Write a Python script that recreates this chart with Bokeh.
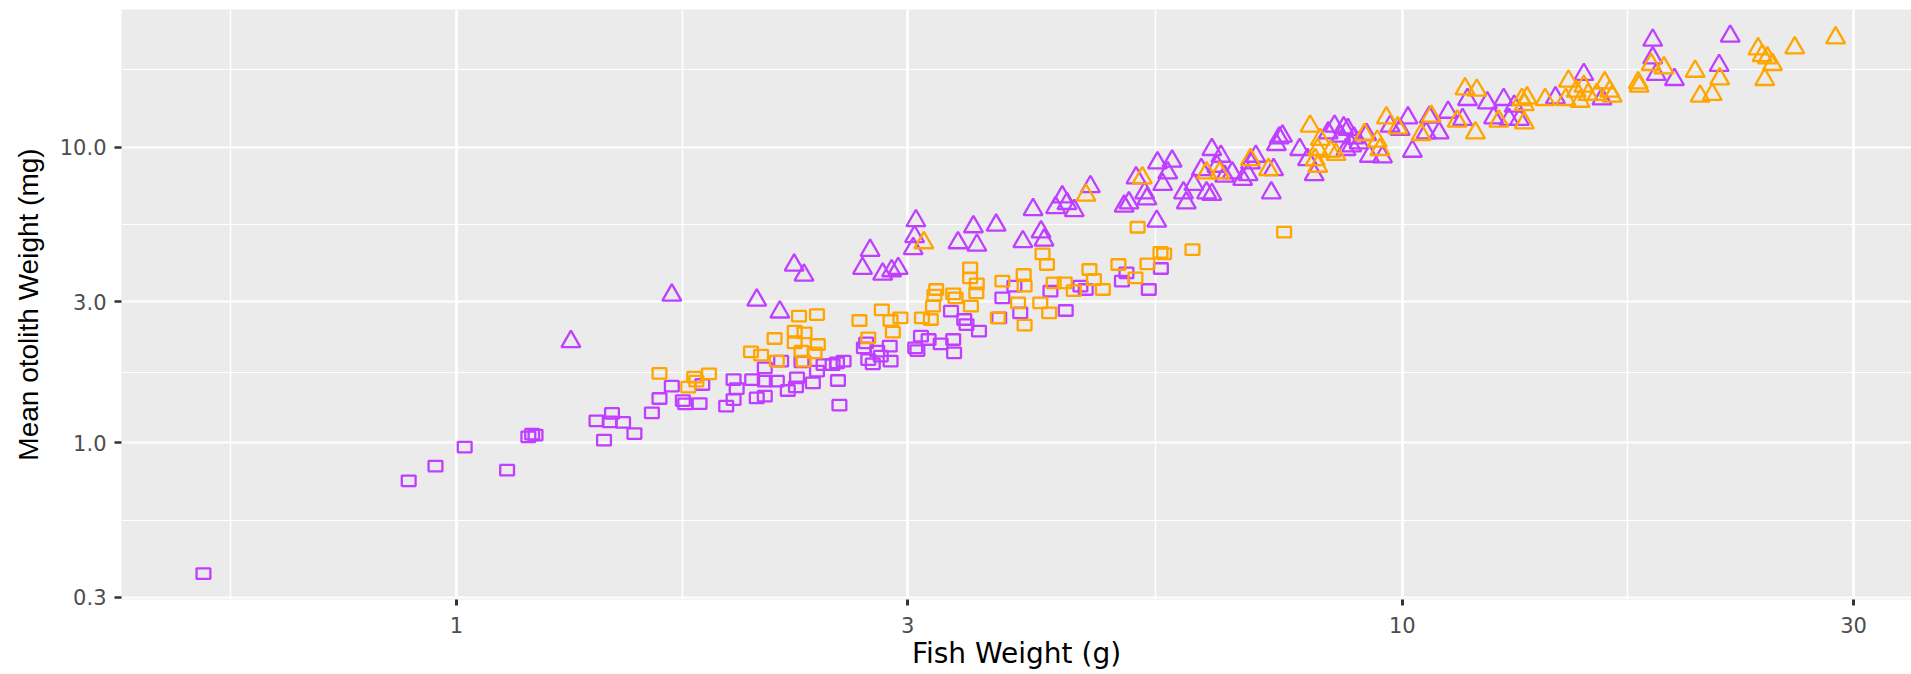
from bokeh.plotting import figure
from bokeh.models import Range1d, FixedTicker
from bokeh.embed import file_html
from bokeh.resources import INLINE

# ---------------- data (fish weight g, mean otolith weight mg) ----------------
purple_sq_x = [0.540, 0.890, 0.950, 1.020, 1.131, 1.191, 1.202, 1.212, 1.406, 1.432, 1.460, 1.452, 1.500, 1.542,
               1.609, 1.639, 1.689, 1.735, 1.745, 1.807, 1.819, 1.928, 1.963, 1.963, 1.978, 2.077, 2.118, 2.054,
               2.118, 2.118, 2.181, 2.204, 2.240, 2.285, 2.291, 2.316, 2.381, 2.405, 2.444, 2.498, 2.525, 2.566,
               2.531, 2.540, 2.696, 2.711, 2.725, 2.755, 2.785, 2.809, 2.877, 2.871, 3.055, 3.071, 3.098, 3.156,
               3.250, 3.333, 3.351, 3.358, 3.442, 3.461, 3.568, 3.748, 3.777, 3.889, 3.945, 4.407, 4.246, 4.567,
               4.627, 5.053, 5.109, 5.395, 5.556]
purple_sq_y = [0.361, 0.744, 0.834, 0.967, 0.808, 1.048, 1.070, 1.062, 1.187, 1.021, 1.257, 1.178, 1.172, 1.075,
               1.263, 1.412, 1.555, 1.390, 1.354, 1.358, 1.575, 1.330, 1.401, 1.637, 1.526, 1.419, 1.438, 1.637,
               1.616, 1.793, 1.616, 1.889, 1.503, 1.546, 1.659, 1.879, 1.595, 1.747, 1.840, 1.840, 1.864, 1.889,
               1.625, 1.341, 2.096, 2.178, 1.913, 1.850, 2.042, 1.964, 1.889, 2.123, 2.096, 2.052, 2.295, 2.236,
               2.162, 2.788, 2.236, 2.016, 2.613, 2.512, 2.386, 2.647, 3.093, 3.388, 2.753, 2.803, 3.258, 3.388,
               3.301, 3.523, 3.758, 3.301, 3.888]

orange_sq_x = [1.639, 1.784, 1.793, 1.849, 1.758, 2.048, 2.099, 2.169, 2.181, 2.278, 2.302, 2.333, 2.278, 2.316,
               2.405, 2.410, 2.391, 2.328, 2.667, 2.725, 2.816, 2.877, 2.893, 2.947, 3.105, 3.173, 3.190, 3.215,
               3.201, 3.351, 3.370, 3.492, 3.492, 3.549, 3.545, 3.499, 3.777, 3.978, 3.987, 3.736, 3.924, 3.987,
               4.165, 4.210, 4.142, 4.233, 4.279, 4.397, 4.494, 4.669, 4.720, 4.824, 5.010, 5.222, 5.378, 5.250,
               7.500, 5.550, 5.600, 6.000]
orange_sq_y = [1.717, 1.667, 1.616, 1.711, 1.542, 2.030, 1.980, 2.254, 1.889, 2.386, 2.682, 2.355, 2.178, 2.042,
               2.716, 2.151, 2.016, 1.889, 2.593, 2.265, 2.818, 2.593, 2.368, 2.647, 2.647, 2.613, 2.899, 3.301,
               3.158, 3.192, 3.093, 3.907, 3.615, 3.451, 3.216, 2.899, 3.523, 3.710, 3.388, 2.647, 2.976, 2.500,
               4.358, 4.010, 2.976, 2.753, 3.477, 3.477, 3.274, 3.857, 3.568, 3.301, 4.010, 3.615, 4.031, 5.360,
               5.160, 4.410, 4.360, 4.500]

purple_tri_x = [1.321, 1.689, 2.077, 2.197, 2.275, 2.330, 2.687, 2.737, 2.822, 2.884, 2.931, 3.040, 3.050, 3.060,
                3.390, 3.520, 3.550, 3.720, 3.970, 4.150, 4.180, 4.070, 4.300, 4.420, 4.370, 4.680, 4.500,
                5.08, 5.14, 5.34, 5.37, 5.50, 5.23, 5.51, 5.71, 5.65, 5.58, 5.87, 5.91, 6.02, 6.13, 6.21, 6.29,
                6.29, 6.43, 6.37, 6.49, 6.61, 6.78, 6.87, 6.91, 7.00, 7.27, 7.31, 7.36, 7.41, 7.47, 7.79, 7.94,
                8.07, 8.35, 8.48, 8.67, 8.61, 8.76, 8.89, 9.00, 8.72, 8.84, 9.17, 9.23, 9.53, 9.71, 9.95, 10.14,
                10.25, 10.60, 10.68, 10.94, 11.18, 11.58, 11.72, 12.30, 12.80, 12.97, 13.13, 13.30, 12.49, 14.52,
                15.56, 16.26, 18.40, 18.40, 18.56, 19.40, 21.63, 22.22]
purple_tri_y = [2.20, 3.16, 3.04, 2.77, 3.99, 3.69, 3.89, 4.48, 3.72, 3.82, 3.89, 4.54, 4.98, 5.64,
                4.75, 5.38, 4.66, 5.45, 4.79, 5.17, 4.85, 6.15, 6.25, 6.45, 6.79, 7.35, 6.10,
                6.32, 6.48, 7.01, 6.69, 5.62, 7.88, 8.85, 8.97, 8.19, 7.48, 7.01, 6.48, 7.48, 8.40, 7.01, 6.92,
                9.82, 9.32, 8.62, 7.98, 8.19, 7.78, 8.08, 8.85, 9.32, 7.01, 8.40, 10.21, 10.75, 10.90, 9.82, 9.08,
                8.08, 11.18, 11.78, 11.63, 10.90, 11.48, 10.75, 10.34, 9.82, 10.10, 11.04, 9.32, 9.27, 11.78, 11.48, 12.57,
                9.69, 11.18, 12.63, 11.18, 13.13, 12.41, 14.50, 14.13, 14.50, 12.41, 13.76, 12.41, 12.57, 14.69,
                17.62, 14.57, 23.01, 20.06, 17.62, 16.94, 18.90, 23.74]

orange_tri_x = [3.12, 4.63, 5.31, 6.21, 6.41, 6.91, 7.22, 7.99, 8.19, 8.14, 8.09, 8.14, 8.40, 8.51, 9.12, 9.41,
                9.47, 9.62, 9.89, 10.47, 10.73, 11.43, 11.65, 11.99, 11.95, 12.65, 13.46, 13.38, 13.55, 13.46,
                14.16, 14.99, 15.27, 14.89, 15.42, 15.72, 15.56, 16.06, 16.37, 16.57, 16.67, 17.76, 17.80, 18.33,
                18.91, 20.40, 21.66, 20.65, 21.27, 23.78, 24.02, 24.32, 24.63, 24.17, 26.00, 28.72]
orange_tri_y = [4.75, 6.88, 7.88, 8.19, 8.19, 9.08, 8.40, 11.78, 10.62, 9.82, 9.08, 8.62, 9.69, 9.45, 11.04, 10.48,
                9.82, 12.57, 11.63, 11.04, 12.73, 12.25, 15.75, 15.59, 11.18, 12.25, 12.09, 14.50, 14.69, 13.94,
                14.50, 16.72, 15.47, 14.50, 14.30, 15.08, 16.08, 15.08, 16.51, 15.47, 14.88, 16.51, 16.08, 19.04,
                18.55, 18.07, 17.03, 14.88, 15.08, 21.52, 20.42, 20.06, 19.04, 16.94, 21.68, 23.43]

x_ticks = [1, 3, 10, 30]
x_tick_labels = ["1", "3", "10", "30"]
x_minor = [0.5774, 1.7321, 5.4772, 17.3205]
y_ticks = [0.3, 1, 3, 10]
y_tick_labels = ["0.3", "1.0", "3.0", "10.0"]
y_minor = [0.5477, 1.7321, 5.4772, 18.2574]

PURPLE = "#BF3EFF"
ORANGE = "#FFA500"

p = figure(width=1911, height=674, x_axis_type="log", y_axis_type="log",
           x_range=Range1d(0.4423, 34.55), y_range=Range1d(0.2951, 29.23),
           output_backend="svg", toolbar_location=None,
           min_border_left=121, min_border_right=0, min_border_top=9, min_border_bottom=75)
p.background_fill_color = "#EBEBEB"
p.border_fill_color = "white"
p.outline_line_color = None

xt = FixedTicker(ticks=x_ticks, minor_ticks=x_minor)
yt = FixedTicker(ticks=y_ticks, minor_ticks=y_minor)
p.xaxis.ticker = xt
p.yaxis.ticker = yt
p.xgrid.ticker = xt
p.ygrid.ticker = yt

p.xgrid.grid_line_color = "white"
p.xgrid.grid_line_width = 2.8
p.xgrid.minor_grid_line_color = "white"
p.xgrid.minor_grid_line_width = 1.5
p.ygrid.grid_line_color = "white"
p.ygrid.grid_line_width = 2.2
p.ygrid.minor_grid_line_color = "white"
p.ygrid.minor_grid_line_width = 1.2

p.xaxis.major_label_overrides = dict(zip(x_ticks, x_tick_labels))
p.yaxis.major_label_overrides = dict(zip(y_ticks, y_tick_labels))

for ax in (p.xaxis, p.yaxis):
    ax.axis_line_color = None
    ax.minor_tick_out = 0
    ax.minor_tick_in = 0
    ax.major_tick_in = 0
    ax.major_tick_line_color = "#333333"
    ax.major_label_text_font = "DejaVu Sans"
    ax.major_label_text_font_size = "21px"
    ax.major_label_text_color = "#4D4D4D"
    ax.axis_label_text_font_style = "normal"
    ax.axis_label_text_color = "black"

p.xaxis.major_tick_out = 6
p.xaxis.major_tick_line_width = 3
p.xaxis.major_label_standoff = 11
p.xaxis.axis_label = "Fish Weight (g)"
p.xaxis.axis_label_text_font = "DejaVu Sans"
p.xaxis.axis_label_text_font_size = "28px"
p.xaxis.axis_label_standoff = 1

p.yaxis.major_tick_out = 7
p.yaxis.major_tick_line_width = 2.4
p.yaxis.major_label_standoff = 8
p.yaxis.axis_label = "Mean otolith Weight (mg)"
p.yaxis.axis_label_text_font = "Liberation Sans"
p.yaxis.axis_label_text_font_size = "28px"
p.yaxis.axis_label_standoff = 13

p.rect(x=purple_sq_x, y=purple_sq_y, width=13.8, height=10.5, width_units="screen", height_units="screen",
       fill_color=None, line_color=PURPLE, line_width=2.3)
p.rect(x=orange_sq_x, y=orange_sq_y, width=13.8, height=10.5, width_units="screen", height_units="screen",
       fill_color=None, line_color=ORANGE, line_width=2.3)
p.scatter(x=purple_tri_x, y=purple_tri_y, marker="triangle", size=19,
          fill_color=None, line_color=PURPLE, line_width=2.3)
p.scatter(x=orange_tri_x, y=orange_tri_y, marker="triangle", size=19,
          fill_color=None, line_color=ORANGE, line_width=2.3)

open("out.html", "w").write(file_html(p, INLINE))
